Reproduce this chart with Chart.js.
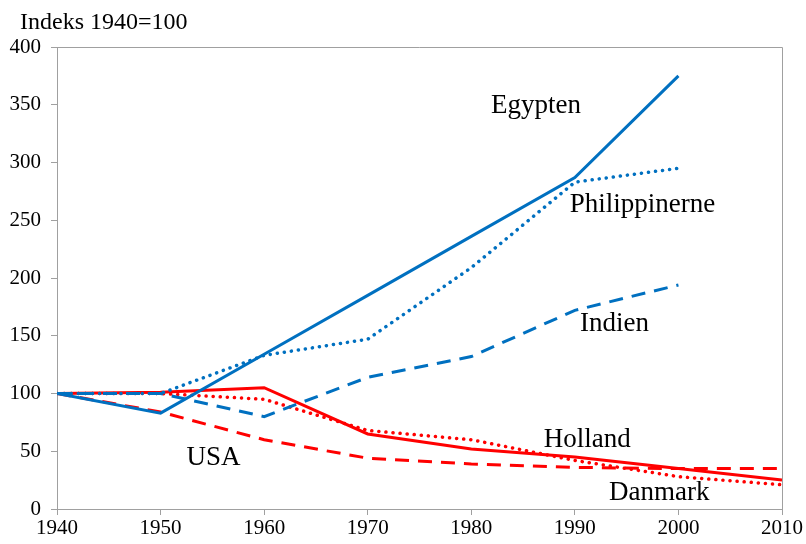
<!DOCTYPE html>
<html>
<head>
<meta charset="utf-8">
<script src="https://cdn.jsdelivr.net/npm/chart.js@4"></script>
<style>
  body { margin: 0; background: #fff; font-family: "Liberation Serif", serif; }
  #wrap { width: 806px; height: 544px; position: relative; }
</style>
</head>
<body>
<div id="wrap"><canvas id="chart" width="806" height="544"></canvas></div>
<script>
// data (index 1940 = 100)
let years = [1940, 1950, 1960, 1970, 1980, 1990, 2000, 2010]
let egypten = [100, 83, 134, 185, 236, 287, 375, null]
let philippinerne = [100, 100, 133, 147, 209, 283, 295, null]
let indien = [100, 100, 80, 114, 132, 172, 194, null]
let holland = [100, 101, 105, 65, 52, 45, 35, 25]
let usa = [100, 84, 60, 44, 39, 36, 35, 35]
let danmark = [100, 100, 95, 68, 60, 42, 28, 21]
let yTicks = [0, 50, 100, 150, 200, 250, 300, 350, 400]

const blue = '#0070C0'
const red = '#FF0000'
const serif = "'Liberation Serif', 'Times New Roman', serif"

function pts(vals){
  return years.map((y, i) => ({ x: y, y: vals[i] })).filter(p => p.y !== null)
}

// text labels placed beside the lines, in data units
const lineLabels = [
  { text: 'Egypten', x: 1981.9, y: 349 },
  { text: 'Philippinerne', x: 1989.5, y: 263 },
  { text: 'Indien', x: 1990.5, y: 160 },
  { text: 'Holland', x: 1987, y: 60 },
  { text: 'USA', x: 1952.5, y: 44 },
  { text: 'Danmark', x: 1993.3, y: 14 }
]

const labelPlugin = {
  id: 'labels',
  afterDatasetsDraw(chart){
    const c = chart.ctx
    const a = chart.chartArea
    const xs = chart.scales.x, ys = chart.scales.y
    c.save()
    // box around the plot
    c.strokeStyle = '#a0a0a0'
    c.lineWidth = 1
    c.beginPath()
    c.moveTo(a.left, a.top + 0.5)
    c.lineTo(a.right + 0.5, a.top + 0.5)
    c.lineTo(a.right + 0.5, a.bottom)
    c.stroke()
    c.fillStyle = '#000'
    c.font = '27px ' + serif
    c.textAlign = 'left'
    c.textBaseline = 'middle'
    lineLabels.forEach(l => {
      c.fillText(l.text, xs.getPixelForValue(l.x), ys.getPixelForValue(l.y))
    })
    c.font = '24px ' + serif
    c.textBaseline = 'alphabetic'
    c.fillText('Indeks 1940=100', 20, 29)
    c.restore()
  }
}

function chartIt(){
  const ctx = document.getElementById('chart').getContext('2d')
  new Chart(ctx, {
    type: 'line',
    data: {
      datasets: [
        { label: 'Egypten', data: pts(egypten), borderColor: blue, borderWidth: 3 },
        { label: 'Philippinerne', data: pts(philippinerne), borderColor: blue, borderWidth: 3.5,
          borderDash: [0.1, 7], borderCapStyle: 'round' },
        { label: 'Indien', data: pts(indien), borderColor: blue, borderWidth: 3,
          borderDash: [14, 9] },
        { label: 'Holland', data: pts(holland), borderColor: red, borderWidth: 3 },
        { label: 'USA', data: pts(usa), borderColor: red, borderWidth: 3,
          borderDash: [14, 9] },
        { label: 'Danmark', data: pts(danmark), borderColor: red, borderWidth: 3.5,
          borderDash: [0.1, 7], borderCapStyle: 'round' }
      ]
    },
    options: {
      responsive: false,
      animation: false,
      elements: { point: { radius: 0 }, line: { tension: 0, fill: false } },
      layout: { padding: { top: 47, right: 24, left: 0, bottom: 0 } },
      plugins: { legend: { display: false }, tooltip: { enabled: false } },
      scales: {
        x: {
          type: 'linear', min: 1940, max: 2010,
          grid: { drawOnChartArea: false, color: '#a0a0a0', tickLength: 6 },
          border: { color: '#a0a0a0' },
          afterFit(s){ s.height = 35 },
          ticks: { stepSize: 10, color: '#000', padding: 1, maxRotation: 0,
            font: { family: serif, size: 21 }, callback: v => String(v) }
        },
        y: {
          min: 0, max: 400,
          afterBuildTicks(s){ s.ticks = yTicks.map(v => ({ value: v })) },
          afterFit(s){ s.width = 57 },
          grid: { drawOnChartArea: false, color: '#a0a0a0', tickLength: 6 },
          border: { color: '#a0a0a0' },
          ticks: { color: '#000', padding: 10, font: { family: serif, size: 21 } }
        }
      }
    },
    plugins: [labelPlugin]
  })
}

Chart.defaults.font.family = serif
document.fonts.load("27px 'Liberation Serif'").then(chartIt, chartIt)
</script>
</body>
</html>
